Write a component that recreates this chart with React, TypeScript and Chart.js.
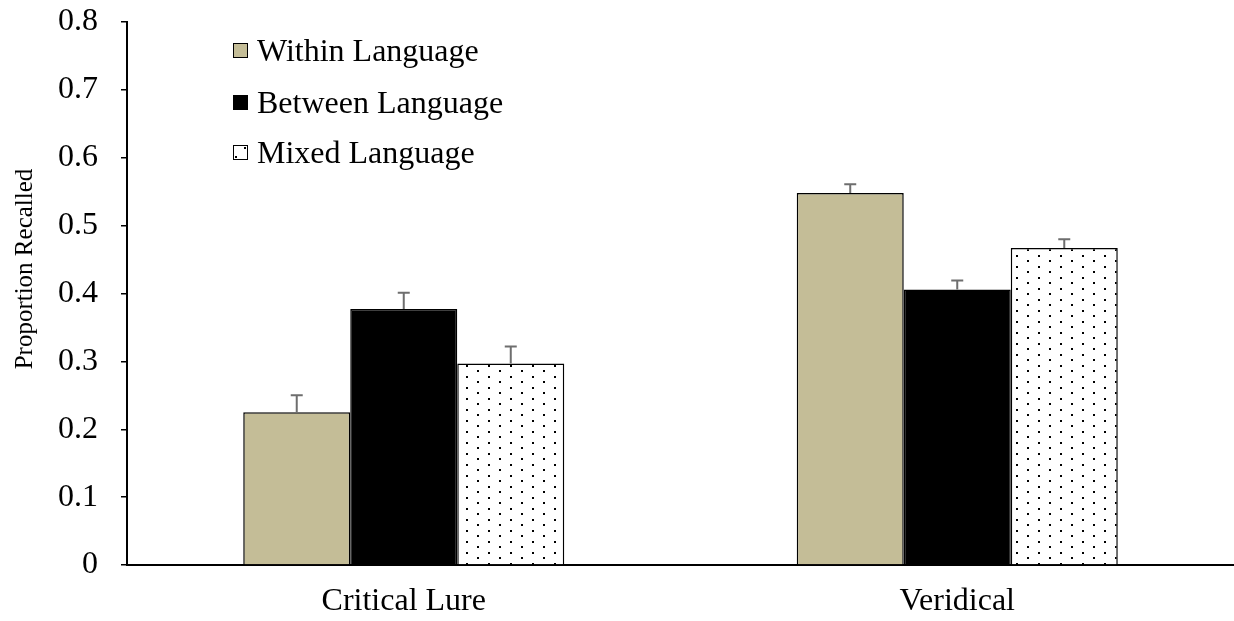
import React, { useEffect, useRef, useState } from "react";
import { Chart, registerables } from "chart.js";

Chart.register(...registerables);

const categories = ["Critical Lure", "Veridical"];
const seriesNames = ["Within Language", "Between Language", "Mixed Language"];
const withinValues = [0.225, 0.548];
const betweenValues = [0.377, 0.406];
const mixedValues = [0.297, 0.467];
const withinErrors = [0.025, 0.013];
const betweenErrors = [0.024, 0.013];
const mixedErrors = [0.025, 0.013];
const yTickValues = [0, 0.1, 0.2, 0.3, 0.4, 0.5, 0.6, 0.7, 0.8];
const yAxisTitle = "Proportion Recalled";

const FONT = "'Liberation Serif', 'Times New Roman', serif";
const WITHIN_COLOR = "#C4BD97";
const TEXT_SIZE = 32;

function makeDotPattern(): CanvasPattern | string {
  const c = document.createElement("canvas");
  c.width = 22;
  c.height = 11;
  const g = c.getContext("2d");
  if (!g) return "#fff";
  g.fillStyle = "#fff";
  g.fillRect(0, 0, 22, 11);
  g.fillStyle = "#000";
  g.fillRect(4, 2, 2, 2);
  g.fillRect(15, 7, 2, 2);
  return g.createPattern(c, "repeat") || "#fff";
}

const errorLists = [withinErrors, betweenErrors, mixedErrors];

const errorBarPlugin = {
  id: "errorBars",
  afterDatasetsDraw(chart: any) {
    const ctx = chart.ctx;
    const yScale = chart.scales.y;
    chart.data.datasets.forEach((ds: any, i: number) => {
      const meta = chart.getDatasetMeta(i);
      meta.data.forEach((bar: any, j: number) => {
        const v = ds.data[j] as number;
        const top = yScale.getPixelForValue(v + errorLists[i][j]);
        const x = bar.x;
        ctx.save();
        ctx.strokeStyle = "#6e6e6e";
        ctx.lineWidth = 2;
        ctx.beginPath();
        ctx.moveTo(x, bar.y);
        ctx.lineTo(x, top);
        ctx.moveTo(x - 6, top);
        ctx.lineTo(x + 6, top);
        ctx.stroke();
        ctx.restore();
      });
    });
  },
};

const yTitlePlugin = {
  id: "yTitle",
  afterDraw(chart: any) {
    const ctx = chart.ctx;
    ctx.save();
    ctx.translate(25, 269);
    ctx.rotate(-Math.PI / 2);
    ctx.font = `25px ${FONT}`;
    ctx.fillStyle = "#000";
    ctx.textAlign = "center";
    ctx.textBaseline = "middle";
    ctx.fillText(yAxisTitle, 0, 0);
    ctx.restore();
  },
};

export default function App() {
  const canvasRef = useRef<HTMLCanvasElement | null>(null);

  useEffect(() => {
    if (!canvasRef.current) return;
    const dots = makeDotPattern();
    const chart = new Chart(canvasRef.current, {
      type: "bar",
      data: {
        labels: categories,
        datasets: [
          { label: seriesNames[0], data: withinValues, backgroundColor: WITHIN_COLOR, borderColor: "#000", borderWidth: 1.5 },
          { label: seriesNames[1], data: betweenValues, backgroundColor: "#000", borderColor: "#000", borderWidth: 1.5 },
          { label: seriesNames[2], data: mixedValues, backgroundColor: dots as any, borderColor: "#000", borderWidth: 1.5 },
        ],
      },
      options: {
        responsive: false,
        animation: false,
        layout: { autoPadding: false, padding: { top: 22, right: 0, left: 0, bottom: 0 } },
        datasets: { bar: { categoryPercentage: 0.58, barPercentage: 1 } },
        plugins: { legend: { display: false }, tooltip: { enabled: false } },
        scales: {
          x: {
            grid: { display: false, drawTicks: false },
            border: { display: true, color: "#000", width: 2 },
            ticks: { color: "#000", padding: 17, font: { family: FONT, size: TEXT_SIZE } },
            afterFit: (scale: any) => {
              scale.height = 56;
              scale.paddingLeft = 0;
              scale.paddingRight = 0;
            },
          },
          y: {
            min: 0,
            max: 0.8,
            grid: { display: true, drawOnChartArea: false, drawTicks: true, tickLength: 6, color: "#000", lineWidth: 1.5 },
            border: { display: true, color: "#000", width: 2 },
            afterBuildTicks: (scale: any) => { scale.ticks = yTickValues.map((v) => ({ value: v })); },
            ticks: {
              color: "#000",
              padding: 23,
              font: { family: FONT, size: TEXT_SIZE },
              callback: (v: any) => (Number(v) === 0 ? "0" : Number(v).toFixed(1)),
            },
            afterFit: (scale: any) => {
              scale.width = 127;
              scale.paddingTop = 0;
              scale.paddingBottom = 0;
            },
          },
        },
      },
      plugins: [errorBarPlugin, yTitlePlugin],
    });
    return () => chart.destroy();
  }, []);

  const legendItem = (i: number, top: number) => {
    const box: React.CSSProperties = {
      position: "absolute",
      left: 233,
      top: top - 7,
      width: 13,
      height: 13,
      border: "1.5px solid #000",
      background: i === 0 ? WITHIN_COLOR : i === 1 ? "#000" : "#fff",
    };
    return (
      <React.Fragment key={i}>
        <div style={box}>
          {i === 2 ? (
            <>
              <span style={{ position: "absolute", right: 1, top: 1, width: 2, height: 2, background: "#000" }} />
              <span style={{ position: "absolute", left: 1, bottom: 1, width: 2, height: 2, background: "#000" }} />
            </>
          ) : null}
        </div>
        <div
          style={{
            position: "absolute",
            left: 257,
            top: top - 19,
            height: 38,
            lineHeight: "38px",
            fontFamily: FONT,
            fontSize: TEXT_SIZE,
            color: "#000",
            whiteSpace: "nowrap",
          }}
        >
          {seriesNames[i]}
        </div>
      </React.Fragment>
    );
  };

  return (
    <div style={{ position: "fixed", left: 0, top: 0, width: 1234, height: 621, background: "#fff" }}>
      <canvas ref={canvasRef} width={1234} height={621} style={{ display: "block" }} />
      {legendItem(0, 50)}
      {legendItem(1, 102)}
      {legendItem(2, 152)}
    </div>
  );
}
